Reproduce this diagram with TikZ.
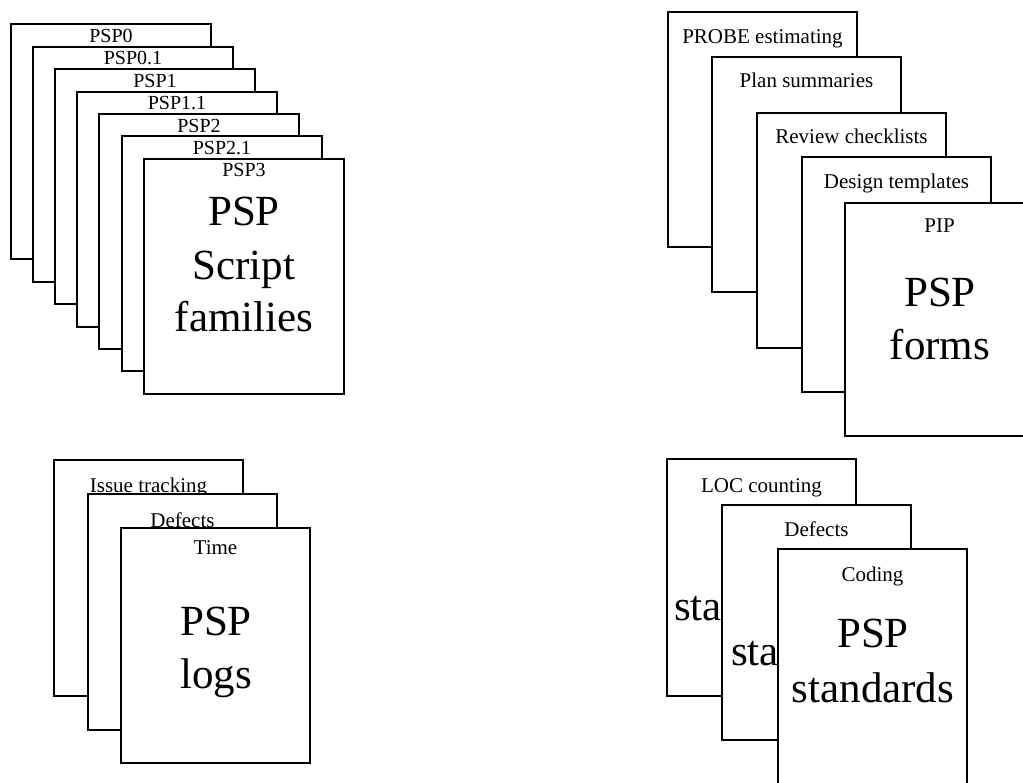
\documentclass[tikz,border=0pt]{standalone}
\usepackage{fontspec}
\setmainfont{Liberation Serif}
\begin{document}
\begin{tikzpicture}[x=1pt,y=-1pt,
  card/.style={draw, fill=white, line width=1.1pt, anchor=north west, inner sep=0pt, outer sep=0pt},
  tlcard/.style={card, minimum width=200pt, minimum height=235pt},
  sheet/.style={card, minimum width=189pt, minimum height=235pt},
  lbl/.style={font=\fontsize{20}{24}\selectfont, anchor=base, inner sep=0pt},
  lblb/.style={font=\fontsize{21}{25}\selectfont, anchor=base, inner sep=0pt},
  big/.style={font=\fontsize{43}{53}\selectfont, anchor=base, inner sep=0pt}]
\useasboundingbox (0,0) rectangle (1023,783);
\clip (0,0) rectangle (1023,783);

% ---------- PSP Script families ----------
\node[tlcard] (s0) at (11,24) {};
\node[lbl] (s0l) at ([yshift=-19pt]s0.north) {PSP0};
\node[tlcard] (s01) at (33,47) {};
\node[lbl] (s01l) at ([yshift=-18pt]s01.north) {PSP0.1};
\node[tlcard] (s1) at (55,69) {};
\node[lbl] (s1l) at ([yshift=-19pt]s1.north) {PSP1};
\node[tlcard] (s11) at (77,92) {};
\node[lbl] (s11l) at ([yshift=-18pt]s11.north) {PSP1.1};
\node[tlcard] (s2) at (99,114) {};
\node[lbl] (s2l) at ([yshift=-19pt]s2.north) {PSP2};
\node[tlcard] (s21) at (122,136) {};
\node[lbl] (s21l) at ([yshift=-19pt]s21.north) {PSP2.1};
\node[tlcard] (s3) at (144,159) {};
\node[lbl] (s3l) at ([yshift=-18pt]s3.north) {PSP3};
\node[big] (s3a) at (244,226) {PSP};
\node[big] (s3b) at (244,280) {Script};
\node[big] (s3c) at (244,332) {families};

% ---------- PSP forms ----------
\node[sheet] (f1) at (668,12) {};
\node[lblb] (f1l) at ([yshift=-32pt]f1.north) {PROBE estimating};
\node[sheet] (f2) at (712,57) {};
\node[lblb] (f2l) at ([yshift=-31pt]f2.north) {Plan summaries};
\node[sheet] (f3) at (757,113) {};
\node[lblb] (f3l) at ([yshift=-31pt]f3.north) {Review checklists};
\node[sheet] (f4) at (802,157) {};
\node[lblb] (f4l) at ([yshift=-32pt]f4.north) {Design templates};
\node[sheet, minimum height=233pt] (f5) at (845,203) {};
\node[lblb] (f5l) at ([yshift=-30pt]f5.north) {PIP};
\node[big] (f5a) at (940,307) {PSP};
\node[big] (f5b) at (940,360) {forms};

% ---------- PSP logs ----------
\node[sheet, minimum height=236pt] (g1) at (54,460) {};
\node[lblb] (g1l) at ([yshift=-32pt]g1.north) {Issue tracking};
\node[sheet, minimum height=236pt] (g2) at (88,494) {};
\node[lblb] (g2l) at ([yshift=-33pt]g2.north) {Defects};
\node[sheet, minimum height=235pt] (g3) at (121,528) {};
\node[lblb] (g3l) at ([yshift=-26pt]g3.north) {Time};
\node[big] (g3a) at (216,635) {PSP};
\node[big] (g3b) at (216,688) {logs};

% ---------- PSP standards ----------
\node[sheet, minimum height=237pt] (t1) at (667,459) {};
\node[lblb] (t1l) at ([yshift=-33pt]t1.north) {LOC counting};
\node[big, anchor=base west] (t1s) at (674,620) {sta};
\node[sheet, minimum height=235pt] (t2) at (722,505) {};
\node[lblb] (t2l) at ([yshift=-31pt]t2.north) {Defects};
\node[big, anchor=base west] (t2s) at (731,665) {sta};
\node[sheet, minimum height=237pt] (t3) at (778,549) {};
\node[lblb] (t3l) at ([yshift=-32pt]t3.north) {Coding};
\node[big] (t3a) at (873,647) {PSP};
\node[big] (t3b) at (873,702) {standards};
\end{tikzpicture}
\end{document}
